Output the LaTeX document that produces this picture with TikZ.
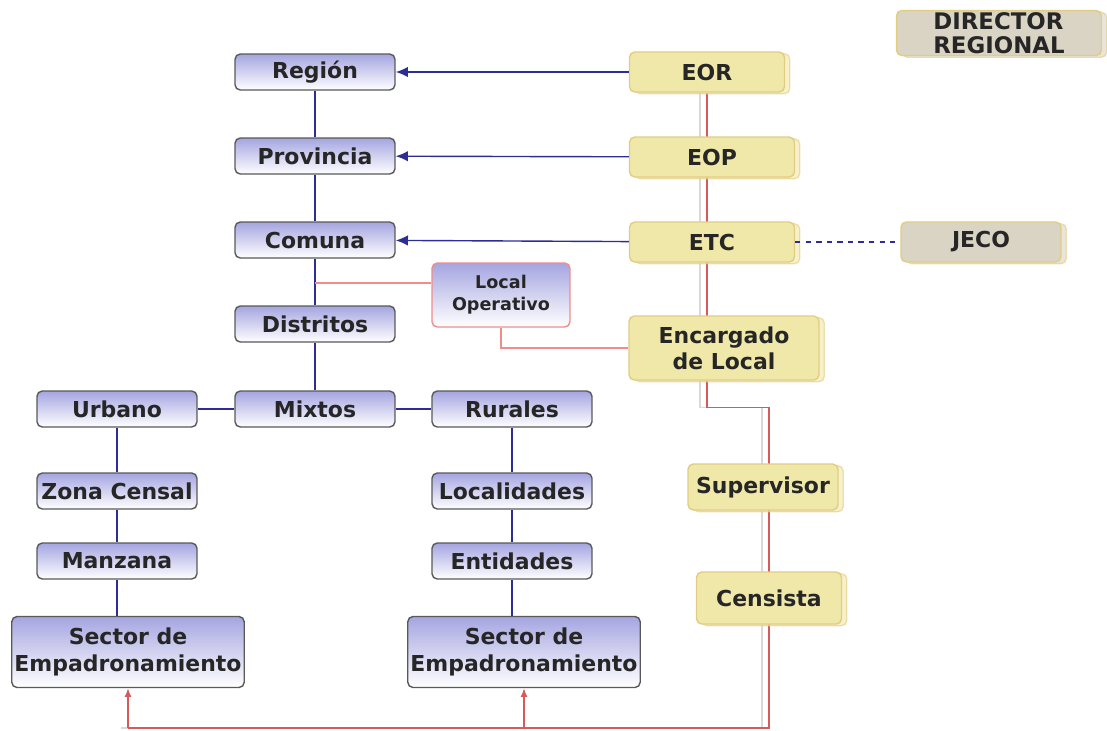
\documentclass[tikz,border=0pt]{standalone}
\usepackage{fontspec}
\setmainfont{DejaVu Sans}
\usetikzlibrary{shadows,backgrounds,arrows.meta}
\definecolor{yel}{RGB}{240,232,168}
\definecolor{yelline}{RGB}{225,205,130}
\definecolor{grisbox}{RGB}{218,212,196}
\definecolor{bluetop}{RGB}{165,165,225}
\definecolor{redln}{RGB}{215,90,90}
\definecolor{pinkln}{RGB}{240,140,140}
\definecolor{blueln}{RGB}{45,45,150}
\tikzset{
  bluebox/.style={draw=black!65, line width=0.8pt, rounded corners=3pt, top color=bluetop, bottom color=white,
    minimum width=3.2cm, minimum height=0.72cm, inner xsep=1pt, font=\bfseries\fontsize{12.5}{15}\selectfont, text=black!85},
  yelbox/.style={draw=yelline, line width=0.8pt, rounded corners=3pt, fill=yel,
    copy shadow={shadow xshift=3pt, shadow yshift=-1pt, opacity=0.6},
    minimum height=0.8cm, font=\bfseries\fontsize{12.5}{15}\selectfont, text=black!85},
  grisbox/.style={yelbox, fill=grisbox},
  blueline/.style={draw=blueln, line width=0.8pt},
  bluearr/.style={blueline, -{Latex[length=7pt,width=6pt]}},
  redline/.style={draw=redln, line width=0.8pt},
  redarr/.style={redline, -{Latex[length=5pt,width=4pt]}},
  pinkline/.style={draw=pinkln, line width=0.8pt},
  shadowline/.style={draw=black!15, line width=0.8pt, transform canvas={xshift=-4pt}}
}
\begin{document}
\begin{tikzpicture}[x=0.02cm, y=-0.02cm]
    \useasboundingbox (0,0) rectangle (1107,731);
    % left side
    \node[bluebox] (reg) at (315,72) {Región};
    \node[bluebox] (prov) at (315,156) {Provincia};
    \node[bluebox] (com) at (315,240) {Comuna};
    \node[bluebox] (dis) at (315,324) {Distritos};
    \node[bluebox] (mix) at (315,409) {Mixtos};
    \node[bluebox] (urb) at (117,409) {Urbano};
    \node[bluebox] (rur) at (512,409) {Rurales};
    \node[bluebox] (zon) at (117,491) {Zona Censal};
    \node[bluebox] (loc) at (512,491) {Localidades};
    \node[bluebox] (man) at (117,561) {Manzana};
    \node[bluebox] (ent) at (512,561) {Entidades};
    \node[bluebox, minimum width=4.65cm, minimum height=1.42cm, align=center] (secA) at (128,652) {Sector de\\Empadronamiento};
    \node[bluebox, minimum width=4.65cm, minimum height=1.42cm, align=center] (secB) at (524,652) {Sector de\\Empadronamiento};
    \node[bluebox, draw=pinkln, minimum width=2.76cm, minimum height=1.28cm, align=center, font=\bfseries\fontsize{10}{12.5}\selectfont] (lop) at (501,295) {Local\\Operativo};
    % right side
    \node[yelbox, minimum width=3.1cm] (eor) at (707,72) {EOR};
    \node[yelbox, minimum width=3.3cm] (eop) at (712,157) {EOP};
    \node[yelbox, minimum width=3.3cm] (etc) at (712,242) {ETC};
    \node[yelbox, minimum width=3.8cm, minimum height=1.28cm, align=center] (enc) at (724,348) {Encargado\\de Local};
    \node[yelbox, minimum width=3.0cm, minimum height=0.92cm] (sup) at (763,487) {Supervisor};
    \node[yelbox, minimum width=2.9cm, minimum height=1.04cm] (cen) at (769,598) {Censista};
    \node[grisbox, minimum width=3.2cm] (jeco) at (981,242) {JECO};
    \node[grisbox, minimum width=4.1cm, minimum height=0.9cm, inner sep=0pt, align=left, font=\bfseries\fontsize{13}{13.5}\selectfont] (dir) at (999,33) {DIRECTOR\\REGIONAL};
    \coordinate (bot) at (0,728);
    \coordinate (lopin) at ([yshift=0.24cm]lop.west);
    \begin{scope}[on background layer]
    \draw[blueline] (reg) -- (prov) -- (com) -- (dis) -- (mix);
    \draw[blueline] (urb) -- (mix) -- (rur);
    \draw[blueline] (urb) -- (zon) -- (man) -- (man.south |- secA.north);
    \draw[blueline] (rur) -- (loc) -- (ent) -- (ent.south |- secB.north);
    \draw[pinkline] (lopin) -- (lopin -| com.south);
    \draw[pinkline] (lop.south) |- (enc.west);
    \draw[shadowline] (eor.south) -- (eor.south |- enc.south) -- ++(0,27) -| (bot -| cen.south) -- (bot -| secA.south);
    \draw[redline] (eor.south) -- (eor.south |- enc.south) -- ++(0,27) -| (bot -| cen.south) -- (bot -| secA.south);
    \end{scope}
    \draw[bluearr] (eor) -- (reg);
    \draw[bluearr] (eop) -- (prov);
    \draw[bluearr] (etc) -- (com);
    \draw[blueline, dashed] (etc) -- (jeco);
    \draw[redarr] (bot -| secA.south) -- (secA.south);
    \draw[redarr] (bot -| secB.south) -- (secB.south);
\end{tikzpicture}
\end{document}
